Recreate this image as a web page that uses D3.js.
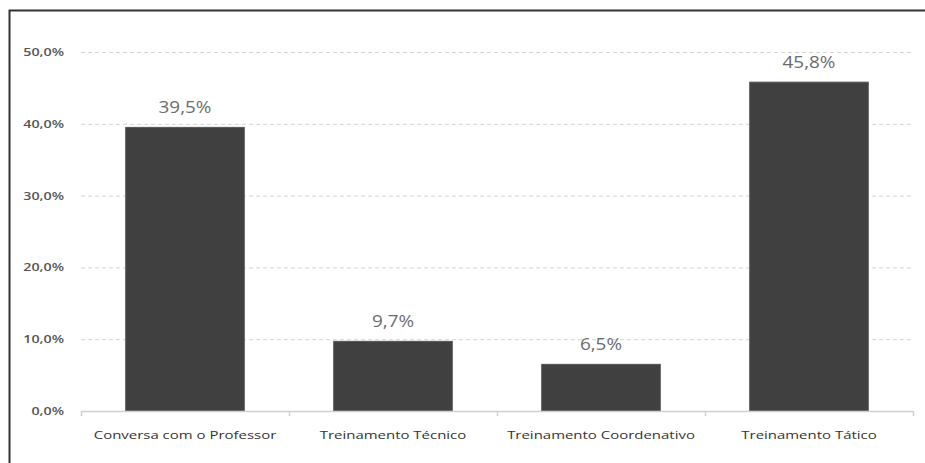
<!DOCTYPE html>
<html>
<head>
<meta charset="utf-8">
<script src="https://cdn.jsdelivr.net/npm/d3@7"></script>
<style>
  html, body { margin: 0; padding: 0; background: #fff; }
  svg { display: block; }
</style>
</head>
<body>
<svg id="chart" width="925" height="463"></svg>
<script>
// Chart data
const categories = ["Conversa com o Professor", "Treinamento Técnico", "Treinamento Coordenativo", "Treinamento Tático"];
const values = [39.5, 9.7, 6.5, 45.8];
const valueLabels = ["39,5%", "9,7%", "6,5%", "45,8%"];
const yTicks = [0, 10, 20, 30, 40, 50];
const yTickLabels = ["0,0%", "10,0%", "20,0%", "30,0%", "40,0%", "50,0%"];

const svg = d3.select("#chart");
const W = 925, H = 463;
const plot = { left: 81, right: 913, top: 52, bottom: 411 };
const FONT = "'Open Sans', sans-serif";

// Outer frame (left and top edges)
svg.append("path")
  .attr("d", `M9.5,${H} L9.5,10.5 L${W},10.5`)
  .attr("fill", "none")
  .attr("stroke", "#333")
  .attr("stroke-width", 2);

const x = d3.scaleBand()
  .domain(categories)
  .range([plot.left, plot.right])
  .paddingInner(0.43)
  .paddingOuter(0.215);

const y = d3.scaleLinear()
  .domain([0, 50])
  .range([plot.bottom, plot.top]);

// Dashed gridlines
svg.append("g")
  .selectAll("line")
  .data(yTicks.filter(d => d > 0))
  .join("line")
  .attr("x1", plot.left)
  .attr("x2", plot.right)
  .attr("y1", d => y(d) + 0.5)
  .attr("y2", d => y(d) + 0.5)
  .attr("stroke", "#d4d4d4")
  .attr("stroke-width", 1)
  .attr("stroke-dasharray", "4,3");

// Y axis labels (wide, Calibri-like proportions)
const ySx = 1.3;
const yAxis = d3.axisLeft(y)
  .tickValues(yTicks)
  .tickFormat((d, i) => yTickLabels[i])
  .tickSize(0)
  .tickPadding(17);
const gy = svg.append("g")
  .attr("transform", `translate(${plot.left},0)`)
  .call(yAxis);
gy.select(".domain").remove();
gy.selectAll("text")
  .attr("x", -17 / ySx)
  .attr("transform", `scale(${ySx},1)`)
  .attr("fill", "#555")
  .style("font-family", FONT)
  .style("font-size", "11px")
  .style("font-weight", "600");

// Bars
svg.append("g")
  .selectAll("rect")
  .data(values)
  .join("rect")
  .attr("x", (d, i) => x(categories[i]))
  .attr("y", d => y(d))
  .attr("width", x.bandwidth())
  .attr("height", d => y(0) - y(d))
  .attr("fill", "#404040")
  .attr("stroke", "#555")
  .attr("stroke-width", 1);

// Value labels
const vSx = 1.22;
svg.append("g")
  .selectAll("text")
  .data(values)
  .join("text")
  .attr("x", (d, i) => (x(categories[i]) + x.bandwidth() / 2) / vSx)
  .attr("y", d => y(d) - 14)
  .attr("transform", `scale(${vSx},1)`)
  .attr("text-anchor", "middle")
  .attr("fill", "#6b6b6b")
  .style("font-family", FONT)
  .style("font-size", "15.5px")
  .text((d, i) => valueLabels[i]);

// X axis baseline with category separators
const xAxisScale = d3.scalePoint()
  .domain(d3.range(categories.length + 1))
  .range([plot.left, plot.right]);
const gx = svg.append("g");
gx.append("line")
  .attr("x1", plot.left).attr("x2", plot.right)
  .attr("y1", plot.bottom + 0.5).attr("y2", plot.bottom + 0.5)
  .attr("stroke", "#cfcfcf").attr("stroke-width", 1.5);
gx.selectAll("line.tick")
  .data(xAxisScale.domain())
  .join("line")
  .attr("class", "tick")
  .attr("x1", d => xAxisScale(d) + 0.5)
  .attr("x2", d => xAxisScale(d) + 0.5)
  .attr("y1", plot.bottom)
  .attr("y2", plot.bottom + 5)
  .attr("stroke", "#cfcfcf")
  .attr("stroke-width", 1.5);

// Category labels
const cSx = 1.36;
const xAxis = d3.axisBottom(x).tickSize(0).tickPadding(20);
const gxl = svg.append("g")
  .attr("transform", `translate(0,${plot.bottom})`)
  .call(xAxis);
gxl.select(".domain").remove();
gxl.selectAll("text")
  .attr("transform", `scale(${cSx},1)`)
  .attr("fill", "#333")
  .style("font-family", FONT)
  .style("font-size", "11px")
  .style("font-weight", "400");
</script>
</body>
</html>
